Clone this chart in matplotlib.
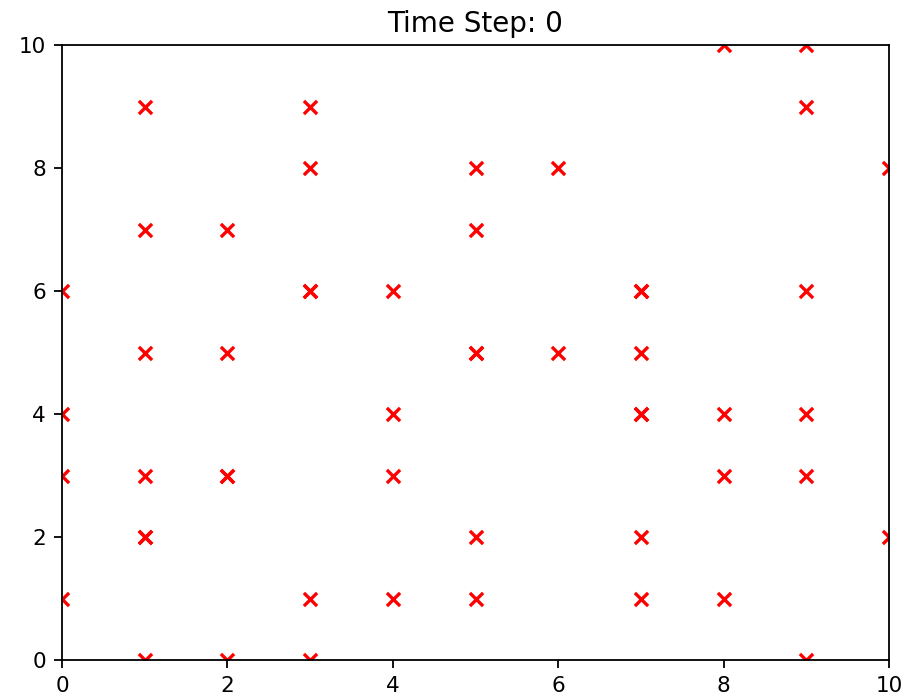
import matplotlib
matplotlib.use("Agg")
import matplotlib.pyplot as plt

# particle positions at time step 0 (duplicates are overlapping particles)
xs = [0, 0, 0, 0,
      1, 1, 1, 1, 1, 1, 1,
      2, 2, 2, 2, 2,
      3, 3, 3, 3, 3, 3,
      4, 4, 4, 4,
      5, 5, 5, 5, 5, 5,
      6, 6,
      7, 7, 7, 7, 7, 7, 7,
      8, 8, 8, 8,
      9, 9, 9, 9, 9, 9,
      10, 10]
ys = [6, 4, 3, 1,
      9, 7, 5, 3, 2, 2, 0,
      7, 5, 3, 3, 0,
      9, 8, 6, 6, 1, 0,
      6, 4, 3, 1,
      8, 7, 5, 5, 2, 1,
      8, 5,
      6, 6, 5, 4, 4, 2, 1,
      10, 4, 3, 1,
      10, 9, 6, 4, 3, 0,
      8, 2]
time_step = 0

fig = plt.figure(figsize=(9.14, 7.0), dpi=100)
ax = fig.add_axes([62 / 914, 40 / 700, 827 / 914, 615 / 700])

ax.scatter(xs, ys, marker="x", color="red", s=90, linewidths=2.4)

ax.set_xlim(0, 10)
ax.set_ylim(0, 10)
ax.set_xticks([0, 2, 4, 6, 8, 10])
ax.set_yticks([0, 2, 4, 6, 8, 10])
ax.tick_params(labelsize=15.5, length=5.8, width=1.3, pad=5.8)
for spine in ax.spines.values():
    spine.set_linewidth(1.3)
ax.set_title(f"Time Step: {time_step}", fontsize=20, pad=9)

fig.savefig("out.png", dpi=100)
